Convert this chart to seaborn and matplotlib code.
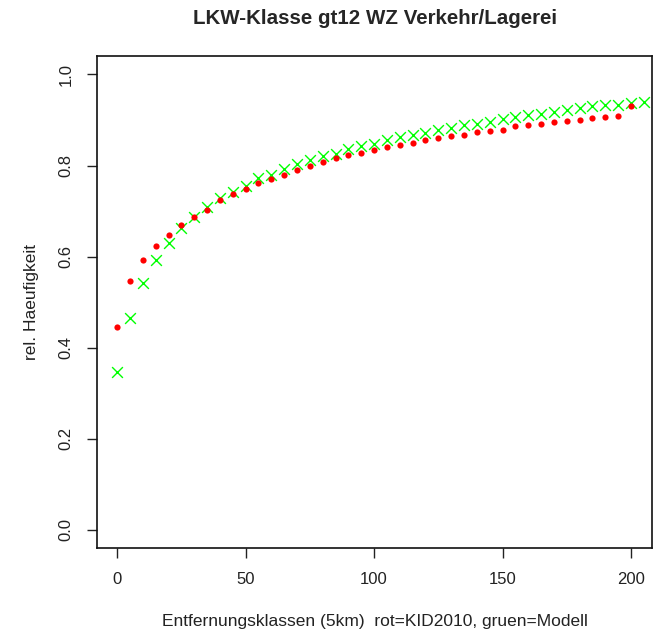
import numpy as np
import pandas as pd
import matplotlib
matplotlib.use("Agg")
import matplotlib.pyplot as plt
import seaborn as sns

# Entfernungsklassen (5km)
dist_kid = list(range(0, 205, 5))     # 0..200
dist_modell = list(range(0, 210, 5))  # 0..205

# rot = KID2010
haeuf_kid = [0.446, 0.546, 0.592, 0.624, 0.648, 0.669, 0.687, 0.702, 0.724, 0.737,
             0.748, 0.762, 0.771, 0.780, 0.791, 0.800, 0.807, 0.816, 0.822, 0.828,
             0.835, 0.840, 0.845, 0.850, 0.855, 0.860, 0.864, 0.867, 0.873, 0.875,
             0.879, 0.886, 0.889, 0.891, 0.895, 0.897, 0.901, 0.905, 0.907, 0.908,
             0.931]

# gruen = Modell
haeuf_modell = [0.346, 0.465, 0.541, 0.592, 0.629, 0.662, 0.687, 0.709, 0.729, 0.742,
                0.756, 0.772, 0.780, 0.793, 0.804, 0.813, 0.820, 0.826, 0.836, 0.842,
                0.848, 0.856, 0.862, 0.867, 0.872, 0.877, 0.882, 0.888, 0.892, 0.896,
                0.902, 0.907, 0.911, 0.914, 0.918, 0.923, 0.927, 0.930, 0.932, 0.934,
                0.938, 0.940]

xticks = [0, 50, 100, 150, 200]
yticks = [0.0, 0.2, 0.4, 0.6, 0.8, 1.0]

df_kid = pd.DataFrame({"dist": dist_kid, "haeuf": haeuf_kid})
df_mod = pd.DataFrame({"dist": dist_modell, "haeuf": haeuf_modell})

sns.set_style("white")
plt.rcParams['font.family'] = ['Liberation Sans', 'DejaVu Sans']

fig = plt.figure(figsize=(6.56, 6.32), dpi=100)
ax = fig.add_axes([0.148, 0.133, 0.846, 0.778])

# Modell zuerst, KID2010 darueber
sns.scatterplot(data=df_mod, x="dist", y="haeuf", ax=ax, marker="x", color="#00ff00",
                s=60, linewidth=1.0)
sns.scatterplot(data=df_kid, x="dist", y="haeuf", ax=ax, marker="o", color="#ff0000",
                s=20, linewidth=0)

ax.set_xlim(-7.8, 208.2)
ax.set_ylim(-0.04, 1.04)
ax.set_xticks(xticks)
ax.set_yticks(yticks)
ax.set_xticklabels([str(t) for t in xticks], fontsize=12, color="#222222")
ax.set_yticklabels([f"{t:.1f}" for t in yticks], fontsize=12, color="#222222",
                   rotation=90, va="center")
ax.tick_params(axis="both", direction="out", length=7, width=1, color="#222222",
               bottom=True, left=True, pad=10)

for sp in ax.spines.values():
    sp.set_visible(True)
    sp.set_color("#111111")
    sp.set_linewidth(1.2)

ax.set_xlabel("Entfernungsklassen (5km)  rot=KID2010, gruen=Modell", fontsize=12.5,
              color="#222222", labelpad=20)
ax.set_ylabel("rel. Haeufigkeit", fontsize=12.5, color="#222222", labelpad=14)
fig.suptitle("LKW-Klasse gt12 WZ Verkehr/Lagerei", fontsize=14.8, fontweight="bold",
             x=0.572, y=0.985)

fig.savefig("out.png", dpi=100, facecolor="white")
